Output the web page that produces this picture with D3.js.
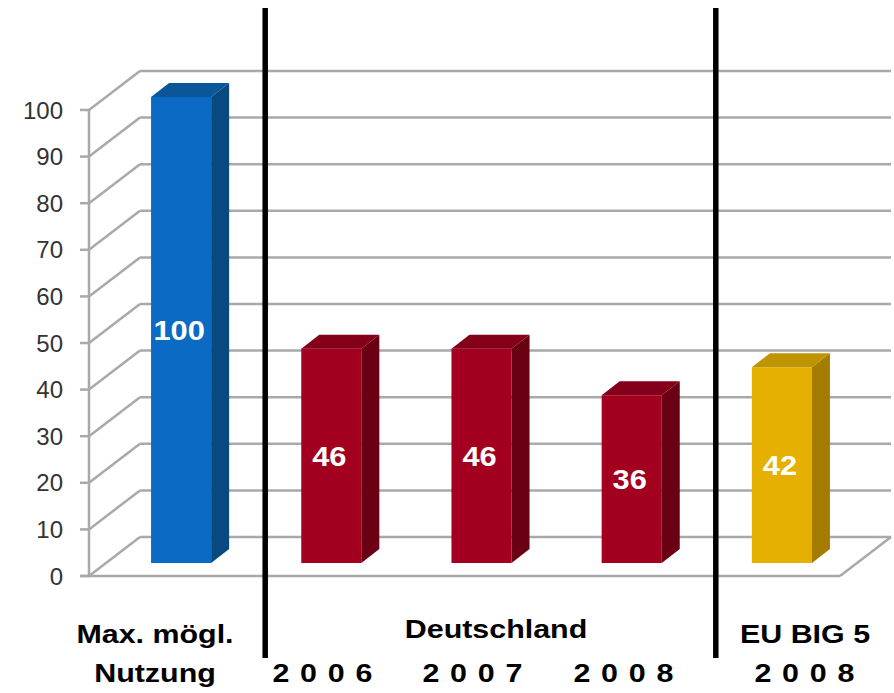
<!DOCTYPE html>
<html>
<head>
<meta charset="utf-8">
<script src="https://cdn.jsdelivr.net/npm/d3@7"></script>
<style>
html,body{margin:0;padding:0;background:#fff;}
svg{display:block;}
</style>
</head>
<body>
<svg id="chart" width="894" height="693"></svg>
<script>
// ---- data ----
const categories = ["Max. mögl. Nutzung", "Deutschland 2006", "Deutschland 2007", "Deutschland 2008", "EU BIG 5 2008"];
const values = [100, 46, 46, 36, 42];
const yTicks = [0, 10, 20, 30, 40, 50, 60, 70, 80, 90, 100];
const groupLabels = ["Max. mögl.", "Deutschland", "EU BIG 5"];
const subLabels = ["Nutzung", "2 0 0 6", "2 0 0 7", "2 0 0 8", "2 0 0 8"];
const barColors = [
  {front: "#0b6bc4", side: "#08497f", top: "#0a5699"},
  {front: "#a3001f", side: "#6a0014", top: "#84001a"},
  {front: "#a3001f", side: "#6a0014", top: "#84001a"},
  {front: "#a3001f", side: "#6a0014", top: "#84001a"},
  {front: "#e6b000", side: "#a37c00", top: "#c09300"}
];

// ---- layout ----
const svg = d3.select("#chart");
const axisX = 89, floorRight = 840;
const wallDx = 51, wallDy = -39;      // depth of back wall
const barOffDx = 17, barOffDy = -13;  // bar front plane offset
const barDepDx = 18, barDepDy = -14;  // bar thickness

const y = d3.scaleLinear().domain([0, 100]).range([576, 110]);
const x = d3.scaleBand().domain(categories).range([axisX, floorRight]).paddingInner(0.6).paddingOuter(0.3);
const bw = x.bandwidth();
const gridColor = "#a9a9a9";

const grid = svg.append("g").attr("stroke", gridColor).attr("stroke-width", 2.5).attr("fill", "none");
grid.selectAll("line.back").data(yTicks).join("line")
  .attr("x1", axisX + wallDx).attr("x2", floorRight + wallDx)
  .attr("y1", d => y(d) + wallDy).attr("y2", d => y(d) + wallDy);
grid.selectAll("line.diag").data(yTicks).join("line")
  .attr("x1", axisX).attr("x2", axisX + wallDx)
  .attr("y1", d => y(d)).attr("y2", d => y(d) + wallDy);
grid.append("line").attr("x1", axisX - 9).attr("x2", floorRight).attr("y1", y(0)).attr("y2", y(0));
grid.append("line").attr("x1", floorRight).attr("x2", floorRight + wallDx).attr("y1", y(0)).attr("y2", y(0) + wallDy);
grid.append("line").attr("x1", axisX).attr("x2", axisX).attr("y1", y(100)).attr("y2", y(0));
grid.selectAll("line.tick").data(yTicks).join("line")
  .attr("x1", axisX - 9).attr("x2", axisX)
  .attr("y1", d => y(d)).attr("y2", d => y(d));

svg.append("g").selectAll("text").data(yTicks).join("text")
  .attr("x", 63).attr("y", d => y(d))
  .attr("dy", "0.36em")
  .attr("text-anchor", "end")
  .attr("font-family", "Liberation Sans, Arial, sans-serif")
  .attr("font-size", 24)
  .attr("fill", "#333")
  .text(d => d);

// bars
const bars = svg.append("g").selectAll("g").data(categories).join("g");
bars.each(function(c, i) {
  const g = d3.select(this);
  const x0 = x(c) + barOffDx, x1 = x0 + bw;
  const yb = y(0) + barOffDy, yt = y(values[i]) + barOffDy;
  const col = barColors[i];
  g.append("rect").attr("x", x0).attr("y", yt).attr("width", bw).attr("height", yb - yt).attr("fill", col.front);
  g.append("path").attr("fill", col.side)
    .attr("d", `M${x1},${yt}L${x1 + barDepDx},${yt + barDepDy}L${x1 + barDepDx},${yb + barDepDy}L${x1},${yb}Z`);
  g.append("path").attr("fill", col.top)
    .attr("d", `M${x0},${yt}L${x0 + barDepDx},${yt + barDepDy}L${x1 + barDepDx},${yt + barDepDy}L${x1},${yt}Z`);
  g.append("text")
    .attr("transform", `translate(${x0 + bw / 2 - 2},${(yt + yb) / 2}) scale(1.1,1)`)
    .attr("dy", "0.36em")
    .attr("text-anchor", "middle")
    .attr("font-family", "Liberation Sans, Arial, sans-serif")
    .attr("font-weight", "bold")
    .attr("font-size", 28)
    .attr("fill", "#fff")
    .text(values[i]);
});

// separators
const sepX = [
  (x(categories[0]) + barOffDx + bw + barDepDx + x(categories[1]) + barOffDx) / 2,
  (x(categories[3]) + barOffDx + bw + barDepDx + x(categories[4]) + barOffDx) / 2
];
svg.append("g").selectAll("line").data(sepX).join("line")
  .attr("x1", d => d).attr("x2", d => d)
  .attr("y1", 8).attr("y2", 658)
  .attr("stroke", "#000").attr("stroke-width", 5.5);

// bottom labels (horizontally stretched bold text)
const labelFont = "'Liberation Sans', Arial, sans-serif";
const stretch = 1.17;
const subX = [155, 323, 473, 624, 805];
const groupX = [155, 496, 805];
const groupY = [643, 638, 643];
svg.append("g").selectAll("text").data(groupLabels).join("text")
  .attr("transform", (d, i) => `translate(${groupX[i]},${groupY[i]}) scale(${stretch},1)`)
  .attr("text-anchor", "middle")
  .attr("font-family", labelFont)
  .attr("font-weight", "bold")
  .attr("font-size", 26)
  .attr("fill", "#000")
  .text(d => d);
svg.append("g").selectAll("text").data(subLabels).join("text")
  .attr("transform", (d, i) => `translate(${subX[i]},682) scale(${stretch},1)`)
  .attr("text-anchor", "middle")
  .attr("font-family", labelFont)
  .attr("font-weight", "bold")
  .attr("font-size", 26)
  .attr("letter-spacing", (d, i) => i === 0 ? 0 : 1)
  .attr("fill", "#000")
  .attr("xml:space", "preserve")
  .text(d => d);
</script>
</body>
</html>
